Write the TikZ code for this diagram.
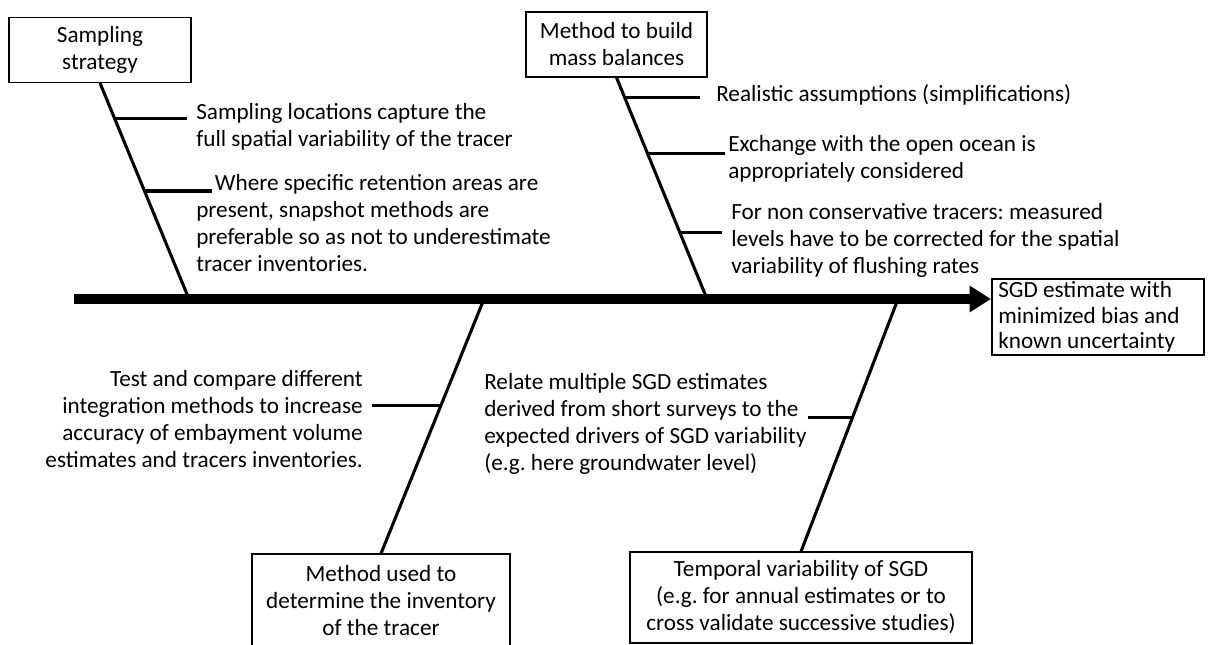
\documentclass[tikz,border=0pt]{standalone}
\usepackage{fontspec}
\setmainfont{Carlito}
\usetikzlibrary{arrows.meta,calc}
\newcommand{\pxu}{0.75pt}
\frenchspacing
\begin{document}
\begin{tikzpicture}[x=0.75pt,y=-0.75pt,
  every node/.style={font=\fontsize{17.4}{20.25}\selectfont, inner sep=0pt},
  box/.style={draw, line width=0.8pt, align=center},
  goalbox/.style={draw, line width=1.6pt},
  goaltext/.style={align=left, anchor=west, font=\fontsize{17.4}{18.9}\selectfont},
  spine/.style={line width=2.3pt},
  branch/.style={line width=2.3pt},
  mainarrow/.style={line width=7.5pt, -{Triangle[length=16pt,width=19pt]}},
  ltxt/.style={align=left, anchor=west},
  rtxt/.style={align=right, anchor=east}]
\useasboundingbox (0,0) rectangle (1219,645);
\clip (0,0) rectangle (1219,645);

% boxes
\node[box, minimum width=182*\pxu, minimum height=65*\pxu] (B1) at (100,50) {Sampling\\strategy};
\node[box, minimum width=181*\pxu, minimum height=65*\pxu] (B2) at (616.5,44.5) {Method to build\\mass balances};
\node[box, minimum width=258*\pxu, minimum height=94*\pxu] (B3) at (381,601) {Method used to\\determine the inventory\\of the tracer};
\node[box, minimum width=342*\pxu, minimum height=91*\pxu] (B4) at (801,597.5) {Temporal variability of SGD\\(e.g. for annual estimates or to\\cross validate successive studies)};
\node[goalbox, minimum width=212*\pxu, minimum height=76*\pxu] (G) at (1098,317) {};
\node[goaltext] (Gt) at (998,317) {SGD estimate with\\minimized bias and\\known uncertainty};

% main axis
\coordinate (m0) at (74,299);
\draw[mainarrow] (m0) -- (m0 -| G.west);

% junctions on main axis
\coordinate (j1) at (189,299);
\coordinate (j2) at (707,299);
\coordinate (j3) at (484,299);
\coordinate (j4) at (898,299);

% spines
\draw[spine] (B1.south) -- (j1);
\draw[spine] (B2.south) -- (j2);
\draw[spine] (j3) -- (B3.north);
\draw[spine] (j4) -- (B4.north);

% branch starts
\path ($(B1.south)!0.165!(j1)$) coordinate (b11);
\path ($(B1.south)!0.5!(j1)$) coordinate (b12);
\path ($(B2.south)!0.09!(j2)$) coordinate (b21);
\path ($(B2.south)!0.342!(j2)$) coordinate (b22);
\path ($(B2.south)!0.698!(j2)$) coordinate (b23);
\path ($(j3)!0.42!(B3.north)$) coordinate (b31);
\path ($(j4)!0.47!(B4.north)$) coordinate (b41);

% branch ends
\coordinate (e11) at (187,0);
\coordinate (e12) at (212,0);
\coordinate (e21) at (700,0);
\coordinate (e22) at (725,0);
\coordinate (e23) at (722,0);
\coordinate (e31) at (372,0);
\coordinate (e41) at (808,0);

\draw[branch] (b11) -- (b11 -| e11);
\draw[branch] (b12) -- (b12 -| e12);
\draw[branch] (b21) -- (b21 -| e21);
\draw[branch] (b22) -- (b22 -| e22);
\draw[branch] (b23) -- (b23 -| e23);
\draw[branch] (b31) -- (b31 -| e31);
\draw[branch] (b41) -- (b41 -| e41);

% texts
\node[ltxt] (t11) at (196,126.5) {Sampling locations capture the\\full spatial variability of the tracer};
\node[ltxt] (t12) at (196,223.5) {\hspace*{14pt}Where specific retention areas are\\present, snapshot methods are\\preferable so as not to underestimate\\tracer inventories.};
\node[ltxt] (t21) at (716,95) {Realistic assumptions (simplifications)};
\node[ltxt] (t22) at (728,158.5) {Exchange with the open ocean is\\appropriately considered};
\node[ltxt] (t23) at (731,240) {For non conservative tracers: measured\\levels have to be corrected for the spatial\\variability of flushing rates};
\node[rtxt] (t31) at (363,419) {Test and compare different\\integration methods to increase\\accuracy of embayment volume\\estimates and tracers inventories.};
\node[ltxt] (t41) at (484,424) {Relate multiple SGD estimates\\derived from short surveys to the\\expected drivers of SGD variability\\(e.g. here groundwater level)};
\end{tikzpicture}
\end{document}
